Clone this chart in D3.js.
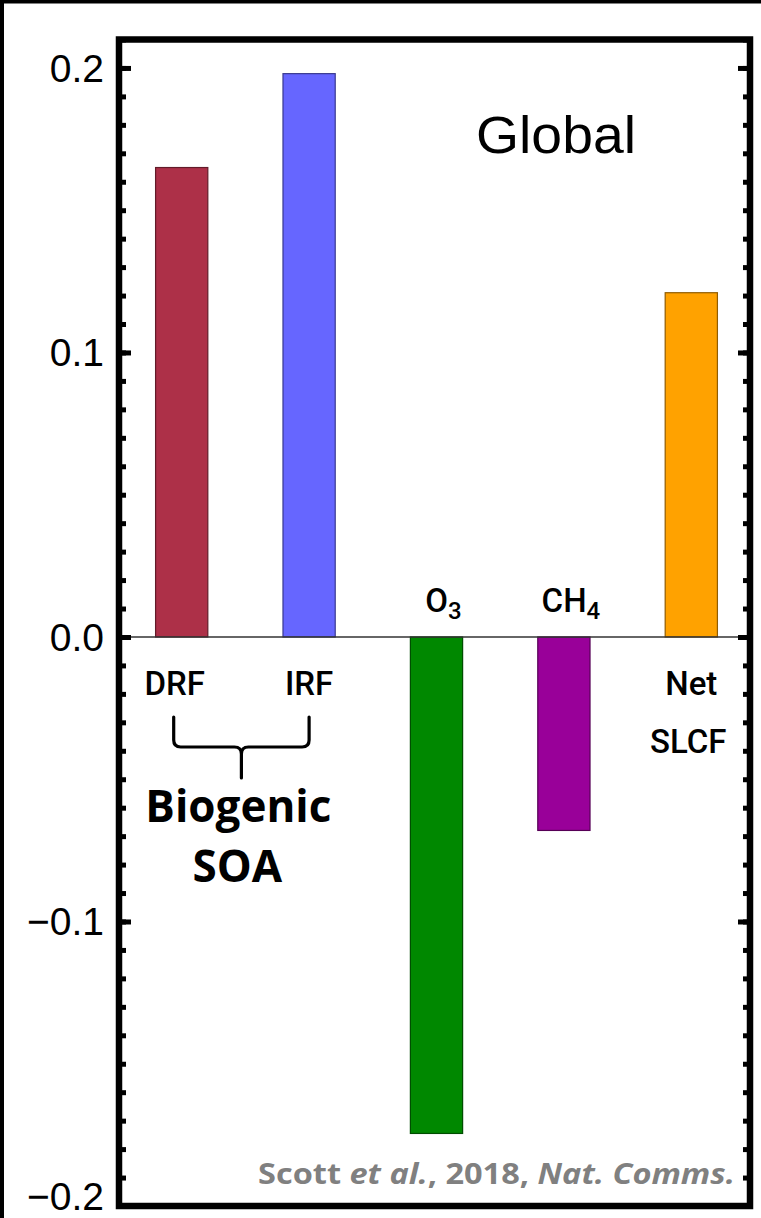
<!DOCTYPE html>
<html><head><meta charset="utf-8">
<script src="https://cdn.jsdelivr.net/npm/d3@7/dist/d3.min.js"></script>
<style>html,body{margin:0;padding:0;background:#fff;}svg{display:block;}</style>
</head><body>
<script>
const categories = ["DRF", "IRF", "O3", "CH4", "Net SLCF"];
const values = [0.165, 0.198, -0.1745, -0.068, 0.121];
const colors = ["#AD3048", "#6666FF", "#008800", "#990099", "#FFA200"];
const majorTicks = [-0.2, -0.1, 0.0, 0.1, 0.2];
const tickLabels = ["\u22120.2", "\u22120.1", "0.0", "0.1", "0.2"];
const minorTicks = d3.range(-20, 22).map(i => i / 100);
const title = "Global";
const groupLabel = ["Biogenic", "SOA"];

const W = 761, H = 1218;
const svg = d3.select("body").append("svg").attr("width", W).attr("height", H);
svg.append("rect").attr("width", W).attr("height", H).attr("fill", "#fff");

// outer border (left and top)
svg.append("rect").attr("x", 0).attr("y", 0).attr("width", 4).attr("height", H).attr("fill", "#000");
svg.append("rect").attr("x", 0).attr("y", 0).attr("width", W).attr("height", 3.5).attr("fill", "#000");

const L = 119, R = 750, T = 39.5, B = 1206;
const y = d3.scaleLinear().domain([-0.2, 0.21]).range([B, T]);
const x = d3.scaleBand().domain(categories).range([118, 755]).paddingInner(0.59).paddingOuter(0.295);

// bars
svg.append("g").selectAll("rect").data(categories).join("rect")
  .attr("x", d => x(d))
  .attr("width", x.bandwidth())
  .attr("y", (d, i) => y(Math.max(0, values[i])))
  .attr("height", (d, i) => Math.abs(y(values[i]) - y(0)))
  .attr("fill", (d, i) => colors[i])
  .attr("stroke", (d, i) => d3.color(colors[i]).darker(1.6))
  .attr("stroke-width", 1.2);

// zero line
svg.append("line").attr("x1", L).attr("x2", R).attr("y1", y(0)).attr("y2", y(0))
  .attr("stroke", "#333").attr("stroke-width", 1.6);

// axes
const tickFont = "'Liberation Sans', Arial, Helvetica, sans-serif";
function styleAxis(g) {
  g.select(".domain").remove();
  g.selectAll(".tick line").attr("stroke", "#000").attr("stroke-width", 5);
}
svg.append("g").attr("transform", `translate(${L},0)`)
  .call(d3.axisLeft(y).tickValues(minorTicks).tickSize(-7).tickFormat(""))
  .call(styleAxis);
svg.append("g").attr("transform", `translate(${R},0)`)
  .call(d3.axisRight(y).tickValues(minorTicks).tickSize(-7).tickFormat(""))
  .call(styleAxis);
const leftMajor = svg.append("g").attr("transform", `translate(${L},0)`)
  .call(d3.axisLeft(y).tickValues(majorTicks).tickSize(-12).tickPadding(15)
    .tickFormat((d, i) => tickLabels[i]))
  .call(styleAxis);
leftMajor.selectAll(".tick text")
  .attr("font-family", tickFont).attr("font-size", 39).attr("fill", "#000")
  .attr("dy", (d) => d === -0.2 ? "0.08em" : "0.34em");
svg.append("g").attr("transform", `translate(${R},0)`)
  .call(d3.axisRight(y).tickValues(majorTicks).tickSize(-12).tickFormat(""))
  .call(styleAxis);

// frame
svg.append("rect").attr("x", L).attr("y", T).attr("width", R - L).attr("height", B - T)
  .attr("fill", "none").attr("stroke", "#000").attr("stroke-width", 6.5);

// category labels
const labFont = "Roboto, 'Liberation Sans', Arial, sans-serif";
const lab = svg.append("g").attr("font-family", labFont).attr("font-weight", 500)
  .attr("font-size", 33).attr("fill", "#000");
categories.forEach((c, i) => {
  const cx = x(c) + x.bandwidth() / 2;
  const pos = values[i] >= 0;
  const t = lab.append("text").attr("text-anchor", "middle").attr("x", cx + (i === 0 ? -7 : 0))
    .attr("y", pos ? y(0) + 58 : y(0) - 25);
  if (c === "O3" || c === "CH4") {
    t.attr("x", cx + 7);
    t.append("tspan").text(c.slice(0, -1));
    t.append("tspan").attr("font-size", 24).attr("dy", 7).text(c.slice(-1));
  } else if (c === "Net SLCF") {
    t.text("Net");
    lab.append("text").attr("text-anchor", "middle").attr("x", cx - 3).attr("y", y(0) + 116).text("SLCF");
  } else {
    t.text(c);
  }
});

// title
svg.append("text").attr("x", 556).attr("y", 153).attr("text-anchor", "middle")
  .attr("font-family", tickFont).attr("font-size", 51).attr("fill", "#000")
  .attr("textLength", 160).attr("lengthAdjust", "spacingAndGlyphs").text(title);

// brace
const bx1 = x("DRF") + x.bandwidth() / 2 - 8;
const bx2 = x("IRF") + x.bandwidth() / 2;
const bm = (bx1 + bx2) / 2;
const by0 = 717, by1 = 747, by2 = 778, r = 7;
const p = d3.path();
p.moveTo(bx1, by0); p.lineTo(bx1, by1 - r); p.quadraticCurveTo(bx1, by1, bx1 + r, by1);
p.lineTo(bm - r, by1); p.quadraticCurveTo(bm, by1, bm, by1 + r); p.lineTo(bm, by2);
p.moveTo(bx2, by0); p.lineTo(bx2, by1 - r); p.quadraticCurveTo(bx2, by1, bx2 - r, by1);
p.lineTo(bm + r, by1); p.quadraticCurveTo(bm, by1, bm, by1 + r);
svg.append("path").attr("d", p.toString()).attr("fill", "none").attr("stroke", "#000")
  .attr("stroke-width", 3.2).attr("stroke-linecap", "round");

const boldFont = "'Open Sans', 'Noto Sans', sans-serif";
svg.append("text").attr("x", bm - 3).attr("y", 822).attr("text-anchor", "middle")
  .attr("font-family", boldFont).attr("font-weight", 700).attr("font-size", 44).attr("fill", "#000")
  .text(groupLabel[0]);
svg.append("text").attr("x", bm - 4).attr("y", 882).attr("text-anchor", "middle")
  .attr("font-family", boldFont).attr("font-weight", 700).attr("font-size", 44).attr("fill", "#000")
  .text(groupLabel[1]);

// credit
const cr = svg.append("text").attr("x", 258).attr("y", 1184)
  .attr("font-family", boldFont).attr("font-weight", 700).attr("font-size", 28).attr("fill", "#808080")
  .attr("textLength", 477).attr("lengthAdjust", "spacingAndGlyphs");
cr.append("tspan").text("Scott ");
cr.append("tspan").attr("font-style", "italic").text("et al.");
cr.append("tspan").text(", 2018, ");
cr.append("tspan").attr("font-style", "italic").text("Nat. Comms.");
</script>
</body></html>
